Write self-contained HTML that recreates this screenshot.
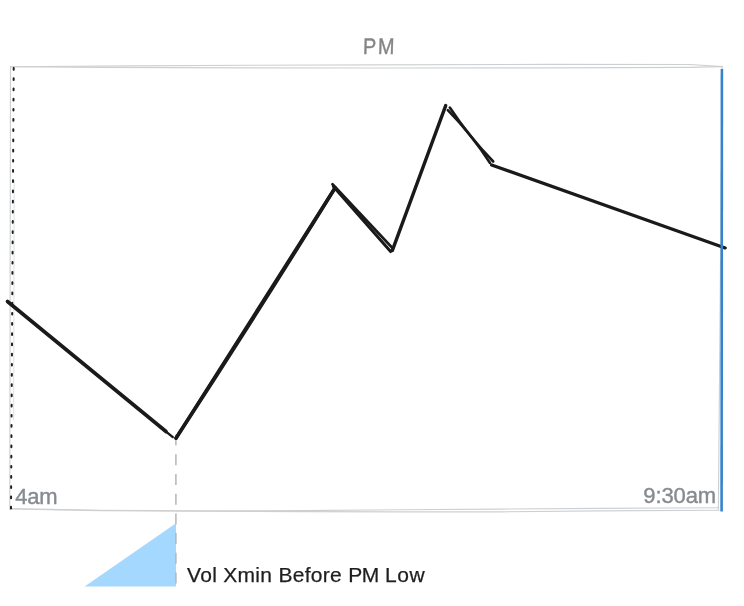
<!DOCTYPE html>
<html>
<head>
<meta charset="utf-8">
<title>PM</title>
<style>
html,body{margin:0;padding:0;background:#fff;}
body{width:744px;height:606px;overflow:hidden;position:relative;font-family:"Liberation Sans",sans-serif;}
svg{position:absolute;left:0;top:0;display:block;}
.t{position:absolute;white-space:nowrap;line-height:1;}
#pm{left:363px;top:36px;font-size:22.5px;color:#858585;letter-spacing:2px;transform:scaleX(.88) skewX(-2deg);transform-origin:0 50%;-webkit-text-stroke:.4px #858585;}
#am4{left:15.3px;top:486.4px;font-size:22px;letter-spacing:-.3px;color:#868b90;-webkit-text-stroke:.4px #868b90;}
#am930{left:643.3px;top:484.8px;font-size:22px;letter-spacing:-.1px;color:#868b90;-webkit-text-stroke:.4px #868b90;}
#vol{left:187px;top:564px;font-size:21px;color:#1e1e1e;letter-spacing:.3px;-webkit-text-stroke:.25px #1e1e1e;}
</style>
</head>
<body>
<svg width="744" height="606" viewBox="0 0 744 606">
  <!-- light blue triangle -->
  <polygon points="84.6,586.4 176,523.3 176,586.4" fill="#a5d8ff"/>
  <!-- sketchy rectangle (double strokes) -->
  <g fill="none" stroke="#cdd0d2" stroke-width="1.15" stroke-linecap="round" stroke-linejoin="round">
    <path d="M10.5 66.8 L 130 65.9 L 250 65.3 L 372 64.9 L 550 64.4 L 690 64.5 L 722.5 66.6"/>
    <path d="M10.5 66.8 L 100 67.4 L 250 67.8 L 372 68 L 550 67.8 L 690 67.4 L 722.5 66.6"/>
    <path d="M10.5 66.8 L 9.8 509"/>
    <path d="M14.2 180 L 13.6 420" stroke="#e2e4e6"/>
    <path d="M722.2 66.6 L 718.4 510"/>
    <path d="M10 508.5 L 50 509.4 L 100 510.2 L 200 510.9 L 300 510.6 L 400 509.8 L 500 509.1 L 600 508.4 L 719 507.7"/>
    <path d="M10 509 L 50 509.8 L 100 510.6 L 200 511.2 L 300 511.6 L 400 511.9 L 500 511.8 L 600 510.9 L 719 510.2"/>
  </g>
  <!-- dashed vertical -->
  <path d="M175.9 434.6 L 175.9 584" fill="none" stroke="#b6b6b6" stroke-width="1.5" stroke-dasharray="11 8.7"/>
  <!-- dotted left line -->
  <path d="M13.7 68.1 L 11 508.6" fill="none" stroke="#1e1e1e" stroke-width="2" stroke-linecap="round" stroke-dasharray="1.7 8.5"/>
  <!-- price polyline -->
  <g fill="none" stroke="#1a1a1a" stroke-width="3.6" stroke-linecap="round" stroke-linejoin="round">
    <path d="M7.5 301.5 L 166 431.5"/>
    <path d="M160 426.7 L 172.8 437.1" stroke-width="2.4"/>
    <path d="M176 438.2 L 335 188" stroke-width="3.4"/>
    <path d="M176 438.2 Q 257 314.1 335 188" stroke-width="3.4"/>
    <path d="M332.5 184.3 L 392.8 248.4" stroke-width="2.8"/>
    <path d="M333.4 186.6 L 390.6 251.6" stroke-width="3"/>
    <path d="M392.4 250.4 L 445.7 105.6" stroke-width="3.4"/>
    <path d="M449.8 107.5 Q 468.9 136.5 493.2 161.5" stroke-width="2.6"/>
    <path d="M447.8 110.2 Q 471.5 134.4 490 163" stroke-width="2.6"/>
    <path d="M491.6 165 L 725.2 247.9" stroke-width="3.2"/>
  </g>
  <!-- blue line -->
  <path d="M721.9 69 L 721.6 511.6" fill="none" stroke="#3583cc" stroke-width="2.6"/>
</svg>
<div class="t" id="pm">PM</div>
<div class="t" id="am4">4am</div>
<div class="t" id="am930">9:30am</div>
<div class="t" id="vol">Vol Xmin Before <span style="letter-spacing:-.4px">PM</span> <span style="letter-spacing:.6px">Low</span></div>
</body>
</html>
